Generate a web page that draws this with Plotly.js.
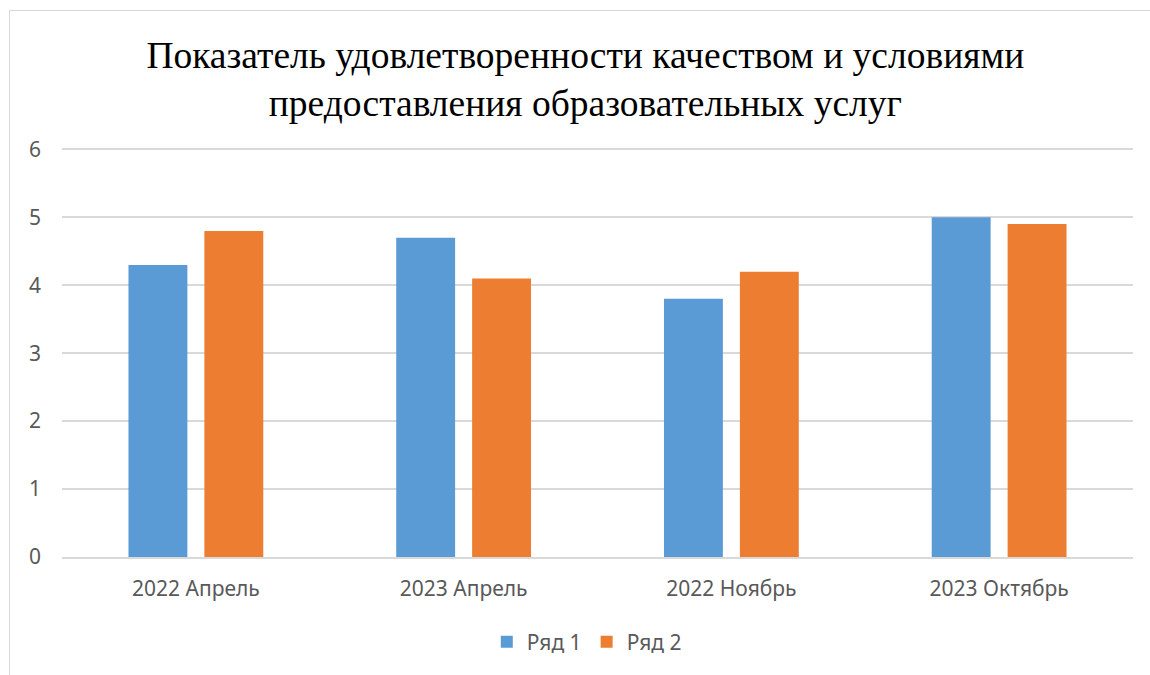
<!DOCTYPE html>
<html>
<head>
<meta charset="utf-8">
<script src="https://cdn.plot.ly/plotly-3.0.1.min.js"></script>
<style>
  html, body { margin: 0; padding: 0; background: #ffffff; }
  #wrap { position: relative; width: 1150px; height: 675px; overflow: hidden; }
  #chart { position: absolute; left: 0; top: 0; width: 1150px; height: 675px; }
  #frame { position: absolute; left: 9px; top: 10px; width: 1160px; height: 700px;
           border: 1px solid #d9d9d9; box-sizing: border-box; pointer-events: none; }
</style>
</head>
<body>
<div id="wrap">
  <div id="chart"></div>
  <div id="frame"></div>
</div>
<script>
const categories = ["2022 Апрель", "2023 Апрель", "2022 Ноябрь", "2023 Октябрь"];
const series1Name = "Ряд 1";
const series1Values = [4.3, 4.7, 3.8, 5.0];
const series2Name = "Ряд 2";
const series2Values = [4.8, 4.1, 4.2, 4.9];
const yTickValues = [0, 1, 2, 3, 4, 5, 6];
const titleText = "Показатель удовлетворенности качеством и условиями<br>предоставления образовательных услуг";

const tickFont = { family: "Noto Sans, Open Sans, sans-serif", size: 21, color: "#595959" };

const traces = [
  { type: "bar", name: series1Name, x: categories, y: series1Values,
    marker: { color: "#5B9BD5" }, hoverinfo: "x+y" },
  { type: "bar", name: series2Name, x: categories, y: series2Values,
    marker: { color: "#ED7D31" }, hoverinfo: "x+y" }
];

const layout = {
  width: 1150, height: 675,
  paper_bgcolor: "rgba(0,0,0,0)",
  plot_bgcolor: "rgba(0,0,0,0)",
  margin: { l: 62, r: 17, t: 146, b: 116, pad: 0 },
  barmode: "group",
  bargap: 0.433,
  bargroupgap: 0.224,
  title: {
    text: titleText,
    font: { family: "Liberation Serif, Times New Roman, serif", size: 37.5, color: "#000000" },
    x: 0.509, xanchor: "center", xref: "container",
    y: 0.9, yanchor: "top", yref: "container"
  },
  xaxis: {
    type: "category",
    tickfont: tickFont,
    showgrid: false,
    showline: true, linecolor: "#d9d9d9", linewidth: 1.5,
    ticks: "", ticklabelstandoff: 12,
    zeroline: false, fixedrange: true
  },
  yaxis: {
    range: [0, 6.05],
    tickvals: yTickValues,
    tickfont: tickFont,
    showgrid: true, gridcolor: "#d9d9d9", gridwidth: 1.5,
    zeroline: false, showline: false,
    ticks: "", ticklabelstandoff: 20,
    fixedrange: true
  },
  showlegend: true,
  legend: {
    orientation: "h", x: 0.49, xanchor: "center", y: -0.207, yanchor: "middle",
    font: tickFont, itemwidth: 30, traceorder: "normal"
  }
};

Plotly.newPlot("chart", traces, layout, { displayModeBar: false, staticPlot: false });
</script>
</body>
</html>
